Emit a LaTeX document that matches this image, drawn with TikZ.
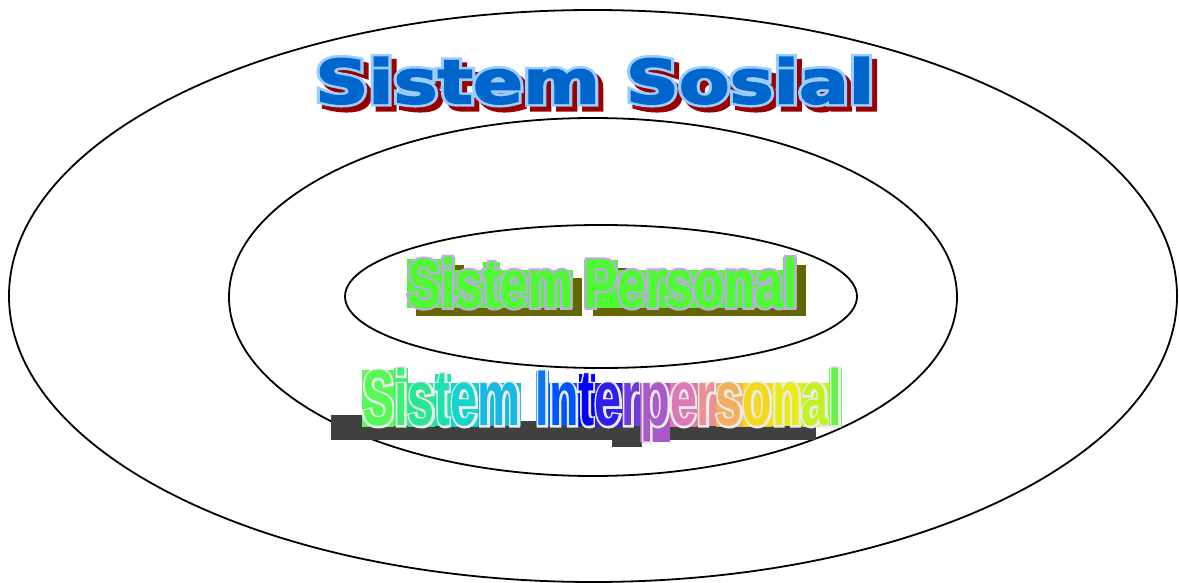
\documentclass[tikz,border=0pt]{standalone}
\usepackage{fontspec}
\usepackage{graphicx}
\usepackage{xcolor}
\usetikzlibrary{shapes.geometric, positioning}

\newfontfamily\heavyfont{DejaVu Sans Bold}[FakeBold=2.5]
\newfontfamily\heavyrim{DejaVu Sans Bold}[FakeBold=11]
\newfontfamily\narrowfont{Liberation Sans Bold}[FakeStretch=0.67, FakeBold=1.5]
\newfontfamily\narrowrim{Liberation Sans Bold}[FakeStretch=0.67, FakeBold=7]
\newfontfamily\slimfont{Liberation Sans Bold}[FakeStretch=0.55]
\newfontfamily\slimrim{Liberation Sans Bold}[FakeStretch=0.55, FakeBold=5]

\definecolor{sosialblue}{RGB}{0,102,204}
\definecolor{sosialrim}{RGB}{153,204,255}
\definecolor{sosialshade}{RGB}{153,0,0}
\definecolor{personalgreen}{RGB}{80,250,50}
\definecolor{personalrim}{RGB}{204,160,255}
\definecolor{personalshade}{RGB}{102,102,0}
\definecolor{interrim}{RGB}{235,235,235}
\definecolor{intershade}{RGB}{64,64,64}
% rainbow of the interpersonal letters
\definecolor{ia}{RGB}{85,250,85}
\definecolor{ib}{RGB}{60,240,115}
\definecolor{ic}{RGB}{40,230,145}
\definecolor{id}{RGB}{30,225,175}
\definecolor{ie}{RGB}{20,212,205}
\definecolor{if}{RGB}{20,185,228}
\definecolor{ig}{RGB}{10,120,242}
\definecolor{ih}{RGB}{0,85,250}
\definecolor{ii}{RGB}{0,0,255}
\definecolor{ij}{RGB}{45,30,235}
\definecolor{ik}{RGB}{110,60,215}
\definecolor{il}{RGB}{170,90,200}
\definecolor{im}{RGB}{220,120,180}
\definecolor{in}{RGB}{235,145,150}
\definecolor{io}{RGB}{242,175,95}
\definecolor{ip}{RGB}{245,215,30}
\definecolor{iq}{RGB}{232,235,20}
\definecolor{ir}{RGB}{195,242,35}
\definecolor{is}{RGB}{100,245,70}

\setlength{\fboxsep}{0pt}
% letter in its own box: rim drawn fat, letter drawn over it
\newcommand{\letterbox}[3]{\colorbox{#1}{\rlap{\rimfont\color{#2}#3}\color{#1}#3}}
% shadow of a letter box
\newcommand{\shadebox}[2]{\colorbox{#1}{\phantom{#2}}}

\begin{document}
\begin{tikzpicture}[x=1pt, y=-1pt,
    ring/.style={ellipse, draw, line width=1.8pt, inner sep=0pt},
    word/.style={inner sep=0pt, anchor=north west}]
   \useasboundingbox (0,0) rectangle (1179,583);

   % three systems
   \node[ring, minimum width=1168, minimum height=572] (sosialring) at (593,296) {};
   \node[ring, minimum width=728, minimum height=358] (interring) at (593,297) {};
   \node[ring, minimum width=512, minimum height=143] (personalring) at (601,296.5) {};

   % Sistem Sosial
   \node[word] (sosialshadow) at (320,62) {\resizebox*{559pt}{47pt}{%
      \fontsize{64}{70}\heavyrim\color{sosialshade}Sistem Sosial}};
   \node[word] (sosial) at (315,57) {\resizebox*{559pt}{47pt}{%
      \fontsize{64}{70}\selectfont
      \rlap{\heavyrim\color{sosialrim}Sistem Sosial}\heavyfont\color{sosialblue}Sistem Sosial}};

   % Sistem Personal
   \node[word] (personalshadow) at (416,265) {\resizebox*{390pt}{51pt}{%
      \fontsize{68}{72}\narrowfont
      \foreach \ch in {S,i,s,t,e,m} {\shadebox{personalshade}{\ch}}\hspace{10pt}%
      \foreach \ch in {P,e,r,s,o,n,a,l} {\shadebox{personalshade}{\ch}}}};
   \node[word] (personal) at (407,257) {\resizebox*{390pt}{51pt}{%
      \fontsize{68}{72}\narrowfont\let\rimfont\narrowrim
      \foreach \ch in {S,i,s,t,e,m} {\letterbox{personalgreen}{personalrim}{\ch}}\hspace{10pt}%
      \foreach \ch in {P,e,r,s,o,n,a,l} {\letterbox{personalgreen}{personalrim}{\ch}}}};

   % Sistem Interpersonal
   \node[word] (intershadow) at (331,414) {\resizebox*{485pt}{33pt}{%
      \fontsize{78}{80}\slimfont
      \foreach \ch in {S,i,s,t,e,m} {\shadebox{intershade}{\ch}}\shadebox{intershade}{\hspace{13pt}I}%
      \foreach \ch in {n,t,e,r,p,e,r,s,o,n,a,l} {\shadebox{intershade}{\ch}}}};
   \node[word] (inter) at (362,368) {\resizebox*{480pt}{74pt}{%
      \fontsize{78}{80}\slimfont\let\rimfont\slimrim
      \foreach \ch/\c in {S/ia,i/ib,s/ic,t/id,e/ie,m/if} {\letterbox{\c}{interrim}{\ch}}\hspace{13pt}%
      \foreach \ch/\c in {I/ig,n/ih,t/ii,e/ij,r/ik,p/il,e/im,r/in,s/io,o/ip,n/iq,a/ir,l/is}
         {\letterbox{\c}{interrim}{\ch}}}};
\end{tikzpicture}
\end{document}
